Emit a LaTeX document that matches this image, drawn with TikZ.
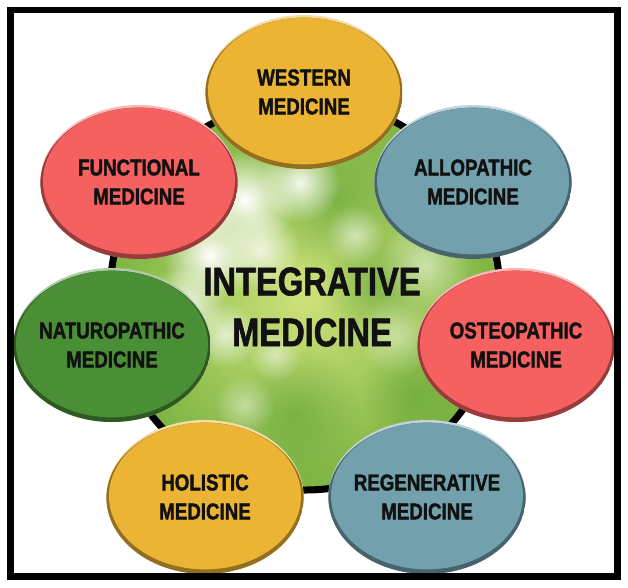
\documentclass[tikz,border=0pt]{standalone}
\usepackage{fontspec}
\setmainfont{Liberation Sans}[FakeStretch=0.82, BoldFeatures={FakeBold=1.6}]
\usetikzlibrary{shapes.geometric, fadings, calc}
\definecolor{sun}{HTML}{ECB434}
\definecolor{coral}{HTML}{F56060}
\definecolor{steel}{HTML}{72A0AD}
\definecolor{leaf}{HTML}{4A8F36}
\definecolor{ink}{HTML}{111111}
\definecolor{hubin}{HTML}{CFE27C}
\definecolor{hubout}{HTML}{7CB442}
\definecolor{hubdark}{HTML}{64A438}
\tikzfading[name=softblob, inner color=transparent!0, outer color=transparent!100]
\tikzset{
  bubble/.style={ellipse, minimum width=5.92cm, minimum height=4.62cm,
                 inner sep=-0.9cm, align=center, text=ink,
                 font=\fontsize{19.5}{24.7}\selectfont\bfseries,
                 fill=#1!45!white,
                 path picture={
                   \fill[#1!62!black] ([yshift=-0.04cm]path picture bounding box.center)
                     ellipse [x radius=2.96cm, y radius=2.27cm];
                   \fill[#1] ([yshift=0.03cm]path picture bounding box.center)
                     ellipse [x radius=2.88cm, y radius=2.2cm];}},
  blob/.style={fill=#1, path fading=softblob},
  hub/.style={circle, draw=black, line width=0.21cm, minimum size=11.7cm,
              inner sep=0pt,
              path picture={
                \shade[inner color=hubin, outer color=hubout]
                  (path picture bounding box.south west) rectangle
                  (path picture bounding box.north east);
                % dark patches
                \foreach \dx/\dy/\r in {30/-95/2.2, 70/-10/1.6, -10/120/2.0, 110/100/1.6}
                  \fill[blob=hubdark, opacity=.6]
                    ($(path picture bounding box.center)+(\dx,\dy)$) circle (\r cm);
                % light bokeh
                \foreach \dx/\dy/\r/\o in {-60/-95/1.5/1, -5/-112/1.2/.9, -95/-40/1.4/1,
                                           -45/-45/1.2/.8, -120/10/1.2/.9, -140/50/1.0/.8,
                                           -80/40/1.0/.7, 50/-60/0.9/.55, -30/60/0.8/.5,
                                           120/-30/1.4/.5, -60/110/0.9/.45, 90/40/1.2/.4,
                                           -100/-90/1.1/.8}
                  \fill[blob=white, opacity=\o]
                    ($(path picture bounding box.center)+(\dx,\dy)$) circle (\r cm);}},
  title/.style={align=center, text=ink, font=\fontsize{34}{43.4}\selectfont\bfseries},
  frame/.style={draw=black, line width=0.195cm},
}

\begin{document}
\begin{tikzpicture}[x=0.03cm, y=-0.03cm]
  \useasboundingbox[fill=white] (0,0) rectangle (628,587);

  \node[hub] (hub) at (305,295) {};
  \node[title] (title) at (312,307) {INTEGRATIVE\\MEDICINE};

  \node[bubble=sun] (western) at (304,92) {WESTERN\\MEDICINE};
  \node[bubble=steel] (allopathic) at (473,182) {ALLOPATHIC\\MEDICINE};
  \node[bubble=coral] (osteopathic) at (516,345) {OSTEOPATHIC\\MEDICINE};
  \node[bubble=steel] (regenerative) at (427,497) {REGENERATIVE\\MEDICINE};
  \node[bubble=sun] (holistic) at (205,497) {HOLISTIC\\MEDICINE};
  \node[bubble=leaf] (naturopathic) at (112,345) {NATUROPATHIC\\MEDICINE};
  \node[bubble=coral] (functional) at (139,182) {FUNCTIONAL\\MEDICINE};

  \draw[frame] (10.5,10) rectangle (617.5,576.5);
\end{tikzpicture}
\end{document}
